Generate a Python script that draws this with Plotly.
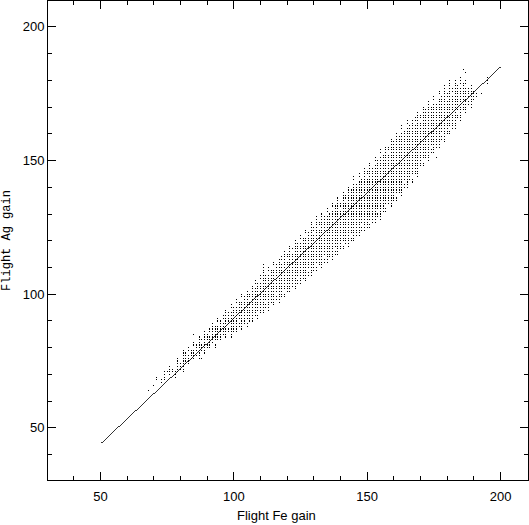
import plotly.graph_objects as go

# Fitted line end points
line_x = [50, 200]
line_y = [44, 185]

# Occupied cells of the integer gain lattice, read per column
col_x = list(range(79, 192))
col_top = [76,74,79,78,80,79,82,81,84,83,86,85,87,89,88,91,90,92,94,93,96,95,
           98,97,100,99,101,100,103,105,104,107,111,107,110,109,112,111,113,114,116,115,
           118,117,120,119,122,121,124,123,127,125,129,127,130,129,132,130,134,133,136,134,
           138,137,140,139,144,141,145,143,147,146,149,147,151,150,154,152,155,155,158,157,
           160,159,163,161,165,163,165,166,168,167,170,169,172,170,174,171,176,174,178,175,
           180,177,180,178,181,179,180,177,178,176,175]
col_bottom = [71,72,71,74,74,76,76,77,76,79,78,80,80,82,80,83,83,85,84,86,84,86,
              86,88,87,89,88,90,90,92,91,93,93,95,94,97,96,98,97,99,99,101,
              101,103,102,104,104,106,105,107,107,109,109,111,110,112,112,114,113,115,115,117,
              117,119,118,120,120,122,122,124,124,125,125,127,127,129,128,131,131,134,133,135,
              135,138,137,140,140,143,142,145,144,148,148,151,150,153,153,155,155,158,157,160,
              160,162,162,166,165,169,168,171,170,173,174]

# Empty cells inside those runs
hole_x = [83,85,88,91,94,96,99,101,103,106,108,110,113,115,118,120,122,125,127,130,132,135,137,140,142,
          145,147,150,153,155,158,160,163,165,168,170,172,175,177,180,182,185,187,
          86,90,93,98,102,105,109,112,116,119,124,128,131,134,138,141,144,148,151,154,157,161,164,167,171,174,178,181,184,188]
hole_y = [78,80,82,85,89,90,94,96,98,98,103,105,108,110,112,113,116,120,122,123,125,130,132,132,135,
          142,143,144,149,152,153,158,161,163,164,165,170,172,174,173,175,178,178,
          78,82,82,88,90,90,93,97,100,101,106,109,111,114,117,119,122,126,127,131,133,137,142,144,150,155,160,162,168,173]

# Sparse points at the low end and isolated strays
stray_x = [68, 70, 71, 71, 73, 73, 74, 74, 74, 74, 75, 76, 76, 76, 76, 77, 77, 78, 78, 78, 85, 186, 187, 195, 195, 195, 88, 176, 193]
stray_y = [64, 66, 68, 69, 67, 68, 68, 69, 70, 71, 71, 70, 71, 72, 73, 71, 72, 69, 70, 71, 85, 184, 183, 179, 180, 181, 76, 151, 175]

x_ticks = [50, 100, 150, 200]
y_ticks = [50, 100, 150, 200]
x_label = "Flight Fe gain"
y_label = "Flight Ag gain"

holes = set(zip(hole_x, hole_y))
px, py = [], []
for cx, top, bottom in zip(col_x, col_top, col_bottom):
    for cy in range(bottom, top + 1):
        if (cx, cy) not in holes:
            px.append(cx)
            py.append(cy)
px += stray_x
py += stray_y

fig = go.Figure()
fig.add_trace(go.Scatter(x=px, y=py, mode="markers",
                         marker=dict(symbol="square", size=1.1, color="black", line=dict(width=0))))
fig.add_trace(go.Scatter(x=line_x, y=line_y, mode="lines", line=dict(color="black", width=0.8)))

axis = dict(showgrid=False, zeroline=False, showline=True, linecolor="black", linewidth=1,
            mirror="ticks", ticks="inside", ticklen=8, tickcolor="black", tickwidth=1,
            tickfont=dict(family="Liberation Sans", size=13, color="black"),
            minor=dict(dtick=10, ticks="inside", ticklen=4, tickcolor="black", tickwidth=1, showgrid=False))
fig.update_layout(
    width=529, height=525, autosize=False, showlegend=False,
    paper_bgcolor="white", plot_bgcolor="white",
    margin=dict(l=48, r=1, t=1, b=45),
    xaxis=dict(axis, range=[30.3, 210.3], tickvals=x_ticks, ticklabelstandoff=4),
    yaxis=dict(axis, range=[30.5, 209.7], tickvals=y_ticks, title=dict(text=y_label, standoff=9,
               font=dict(family="Liberation Mono", size=12, color="black"))),
    annotations=[dict(text=x_label, xref="paper", yref="paper", x=0.476, y=-0.075,
                      xanchor="center", yanchor="middle", showarrow=False,
                      font=dict(family="Liberation Sans", size=13, color="black"))],
)
fig.write_html("out.html", config=dict(displayModeBar=False),
               post_script="document.body.style.margin='0';"
                           "var s=document.createElement('style');"
                           "s.textContent='.main-svg path{shape-rendering:crispEdges}';"
                           "document.head.appendChild(s);")
